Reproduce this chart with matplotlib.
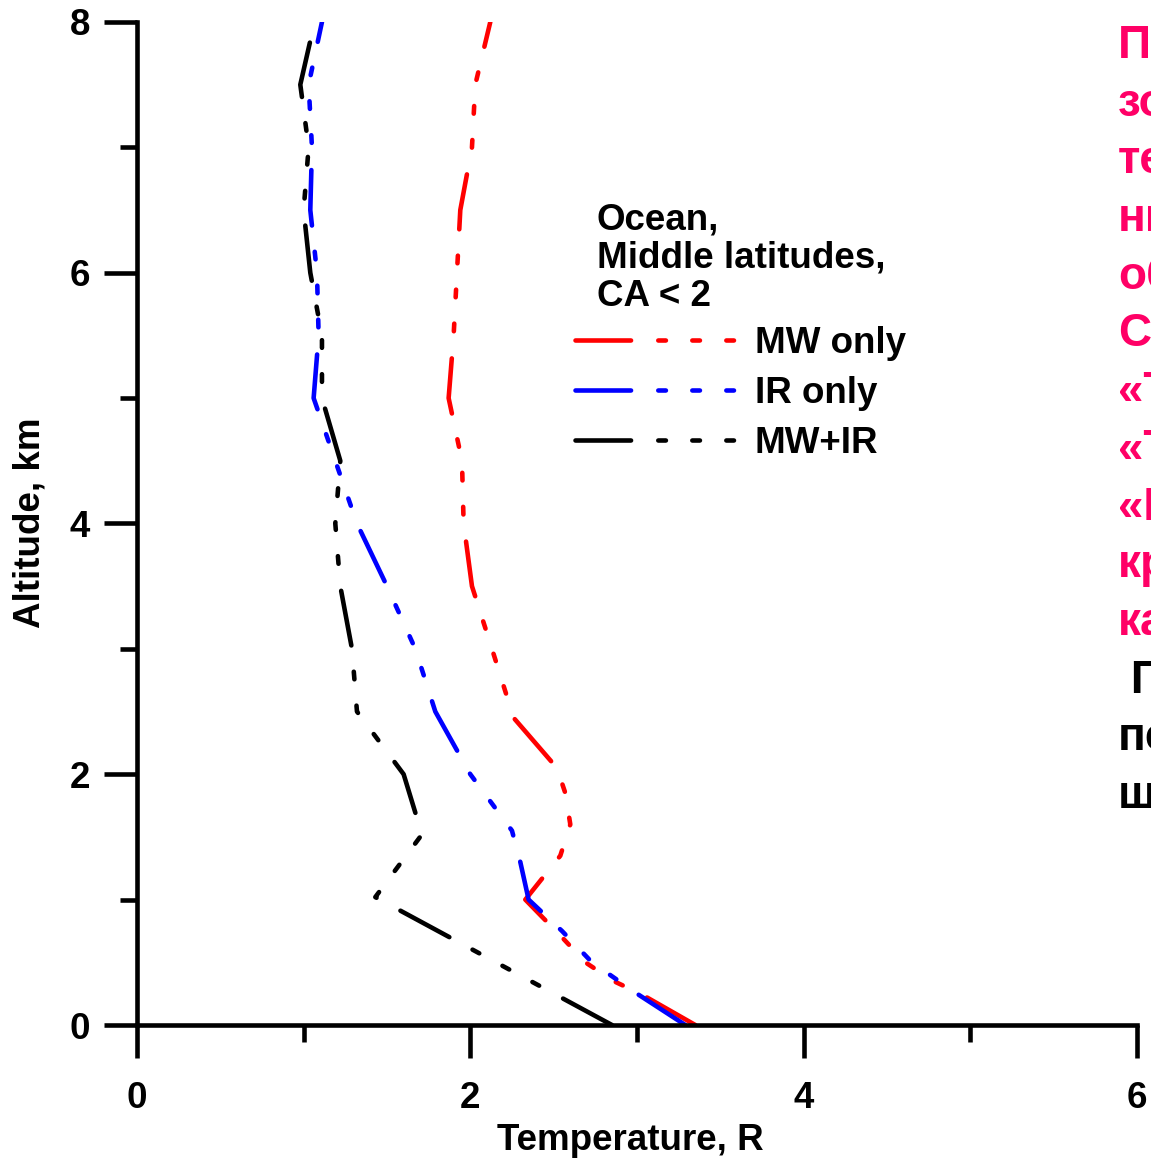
import numpy as np
import matplotlib
matplotlib.use("Agg")
import matplotlib.pyplot as plt

# altitude (km) and temperature error (R)
alt_mw = [0, 0.25, 0.35, 0.5, 0.7, 1.0, 1.35, 1.6, 1.85, 2.05, 2.45, 3.0, 3.5, 4.0, 4.5, 5.0, 5.5, 6.0, 6.5, 7.0, 7.5, 8.0]
temp_mw = [3.35, 3.02, 2.86, 2.69, 2.55, 2.33, 2.54, 2.60, 2.57, 2.52, 2.26, 2.13, 2.01, 1.96, 1.95, 1.87, 1.90, 1.92, 1.94, 2.01, 2.03, 2.12]

alt_ir = [0, 0.25, 0.5, 0.75, 1.0, 1.3, 1.55, 2.0, 2.5, 3.0, 3.5, 4.0, 4.5, 5.0, 5.5, 6.0, 6.5, 7.0, 7.5, 8.0]
temp_ir = [3.29, 3.00, 2.73, 2.55, 2.35, 2.30, 2.25, 2.00, 1.79, 1.67, 1.50, 1.32, 1.19, 1.06, 1.09, 1.08, 1.04, 1.05, 1.03, 1.11]

alt_mwir = [0, 1.02, 1.52, 2.0, 2.5, 3.0, 3.5, 4.0, 4.5, 5.0, 5.5, 6.0, 6.5, 7.0, 7.5, 7.85]
temp_mwir = [2.85, 1.43, 1.71, 1.60, 1.32, 1.29, 1.22, 1.19, 1.22, 1.11, 1.11, 1.04, 1.00, 1.03, 0.98, 1.04]

labels = ["MW only", "IR only", "MW+IR"]
colors = ["#ff0000", "#0000ff", "#000000"]

# side note, cut off by the right edge as in the original slide
note_lines = ["Погрешности", "зондирования", "температуры", "нижней",
              "облачности", "Сравнение:", "«Только СВЧ»", "«Только ИК»",
              "«ИК+СВЧ»", "кривые", "каналов", " Границы", "переходов", "широт"]
note_colors = ["#ff0066"] * 11 + ["#000000"] * 3

plt.rcParams['font.family'] = ['Liberation Sans', 'DejaVu Sans']
plt.rcParams['font.weight'] = 'bold'
plt.rcParams['lines.scale_dashes'] = False

fs = 26.5
lw = 3.3
dash = (0, (40.0, 19.6, 5.5, 19.0, 5.5, 19.0, 5.5, 19.0))

fig = plt.figure(figsize=(11.51, 11.62), dpi=100)
ax = fig.add_axes([0.119, 0.1179, 0.8688, 0.8632])

for t, a, c, lab in zip([temp_mw, temp_ir, temp_mwir], [alt_mw, alt_ir, alt_mwir], colors, labels):
    ax.plot(t, a, color=c, lw=lw, linestyle=dash, dash_capstyle='round',
            solid_capstyle='round', label=lab)

ax.set_xlim(0, 6)
ax.set_ylim(0, 8)
ax.set_xticks([0, 2, 4, 6])
ax.set_xticks([1, 3, 5], minor=True)
ax.set_yticks([0, 2, 4, 6, 8])
ax.set_yticks([1, 3, 5, 7], minor=True)
ax.spines['top'].set_visible(False)
ax.spines['right'].set_visible(False)
for s in ['left', 'bottom']:
    ax.spines[s].set_linewidth(lw)
ax.tick_params(which='major', length=23.8, width=lw, labelsize=fs)
ax.tick_params(which='minor', length=12, width=lw)
ax.tick_params(axis='x', which='major', pad=16.5)
ax.tick_params(axis='y', which='major', pad=10)

ax.set_xlabel("Temperature, R", fontsize=fs, fontweight='bold', va='center')
ax.xaxis.set_label_coords(0.493, -0.1147)
ax.set_ylabel("Altitude, km", fontsize=fs, fontweight='bold', va='center')
ax.yaxis.set_label_coords(-0.107, 0.5005)

ax.text(0.46, 0.82, "Ocean,\nMiddle latitudes,\nCA < 2", transform=ax.transAxes,
        fontsize=fs, fontweight='bold', va='top', ha='left', linespacing=1.12)

ax.legend(loc='upper left', bbox_to_anchor=(0.438, 0.697), frameon=False,
          fontsize=fs, handlelength=4.48, handletextpad=0.4, labelspacing=0.41,
          borderpad=0, borderaxespad=0)

for i, (line, c) in enumerate(zip(note_lines, note_colors)):
    fig.text(1118 / 1151, 1 - (58 + i * 57.7) / 1162, line, color=c,
             fontsize=33, fontweight='bold', va='baseline', ha='left')

fig.savefig("out.png", dpi=100)
